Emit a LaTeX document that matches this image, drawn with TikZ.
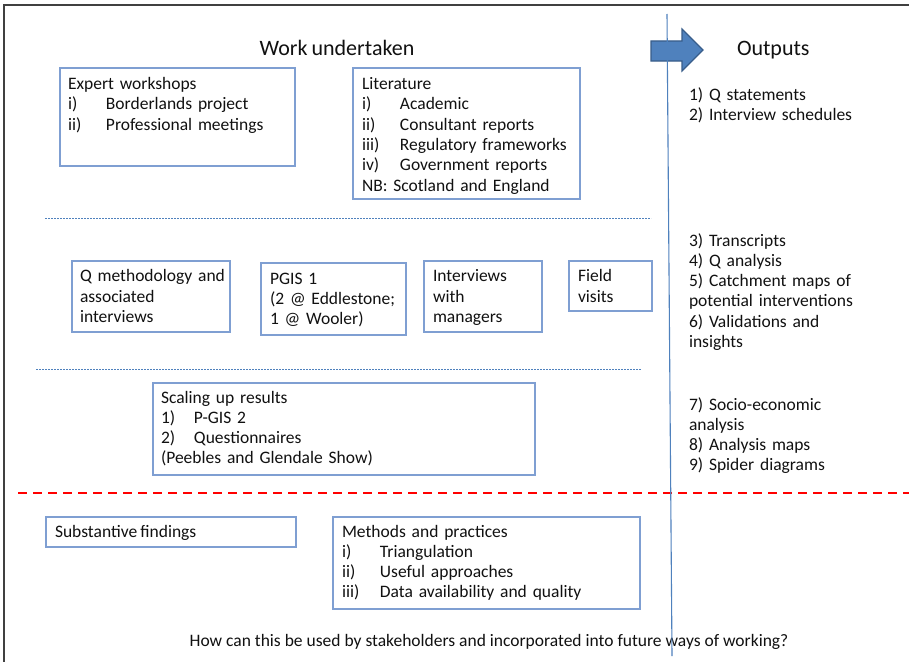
\documentclass[tikz,border=0pt]{standalone}
\usepackage{fontspec}
\setmainfont[WordSpace=0.8]{Carlito}
\newfontfamily\qfont{Carlito}
\definecolor{boxblue}{HTML}{7F9FD2}
\definecolor{lineblue}{HTML}{4F81BD}
\definecolor{arrowedge}{HTML}{385D8A}
\definecolor{framegray}{HTML}{404040}
\definecolor{txt}{HTML}{111111}
\newcommand\firstl{\rule{0pt}{15pt}}
\newcommand\itemlab[2][38pt]{\makebox[#1][l]{#2}}
\tikzset{
  boxnode/.style={draw=boxblue, line width=1.2pt, inner sep=0pt, outer sep=0pt, anchor=north west},
  txtblock/.style={anchor=north west, inner sep=0pt, outer sep=0pt, text width=330pt, align=left,
                   font=\fontsize{17.5}{20.3}\selectfont, text=txt},
  oneline/.style={anchor=base west, inner sep=0pt, outer sep=0pt, font=\fontsize{17.5}{20.3}\selectfont, text=txt},
  title/.style={anchor=base, inner sep=0pt, outer sep=0pt, font=\fontsize{22}{26}\selectfont, text=txt},
  sepline/.style={lineblue, line width=0.8pt, dash pattern=on 2pt off 1pt},
  reddash/.style={red, line width=2.2pt, dash pattern=on 9pt off 6pt},
  frameline/.style={framegray, line width=1.5pt},
  arrowshape/.style={fill=lineblue, draw=arrowedge, line width=1.2pt, line join=miter}
}
\begin{document}
\begin{tikzpicture}[x=1pt,y=-1pt]
\useasboundingbox (0,0) rectangle (909,661);
\fill[white] (0,0) rectangle (909,661);
% frame
\coordinate (fbl) at (4,670);
\coordinate (ftl) at (4,5);
\coordinate (ftr) at (915,5);
\draw[frameline] (fbl) -- (ftl) -- (ftr);

% titles
\node[title] (work) at (337,56) {Work undertaken};
\node[title, anchor=base west] (outputs) at (737,56) {Outputs};

% arrow
\draw[arrowshape] (651,41) -- (682,41) -- (682,29) -- (703,50) -- (682,71) -- (682,61) -- (651,61) -- cycle;

% --- row 1
\node[boxnode, minimum width=235pt, minimum height=98pt] (ewbox) at (60,68) {};
\node[txtblock] (ewtxt) at (68,74.5) {\firstl Expert workshops\\
  \itemlab{i)}Borderlands project\\
  \itemlab{ii)}Professional meetings};

\node[boxnode, minimum width=227pt, minimum height=131pt] (litbox) at (353,68) {};
\node[txtblock] (littxt) at (362,74.5) {\firstl Literature\\
  \itemlab{i)}Academic\\
  \itemlab{ii)}Consultant reports\\
  \itemlab{iii)}Regulatory frameworks\\
  \itemlab{iv)}Government reports\\
  NB: Scotland and England};

\coordinate (s1a) at (45,218);
\coordinate (s1b) at (651,218);
\draw[sepline] (s1a) -- (s1b);

% --- row 2
\node[boxnode, minimum width=158pt, minimum height=71pt] (qbox) at (72,261) {};
\node[txtblock] (qtxt) at (80,266.7) {\firstl Q methodology and\\associated\\interviews};

\node[boxnode, minimum width=145pt, minimum height=72pt] (pgbox) at (261,263) {};
\node[txtblock] (pgtxt) at (270,269) {\firstl PGIS 1\\(2 @ Eddlestone;\\1 @ Wooler)};

\node[boxnode, minimum width=118pt, minimum height=71pt] (imbox) at (424,261) {};
\node[txtblock] (imtxt) at (433,266.7) {\firstl Interviews\\with\\managers};

\node[boxnode, minimum width=83pt, minimum height=50pt] (fvbox) at (569,261) {};
\node[txtblock] (fvtxt) at (578,266.7) {\firstl Field\\visits};

\coordinate (s2a) at (36,369);
\coordinate (s2b) at (641,369);
\draw[sepline] (s2a) -- (s2b);

% --- row 3
\node[boxnode, minimum width=382pt, minimum height=92pt] (scbox) at (153,383) {};
\node[txtblock] (sctxt) at (161,388) {\firstl Scaling up results\\
  \itemlab[33pt]{1)}P-GIS 2\\
  \itemlab[33pt]{2)}Questionnaires\\
  (Peebles and Glendale Show)};

% red dashed divider
\coordinate (rda) at (18,493);
\coordinate (rdb) at (915,493);
\draw[reddash] (rda) -- (rdb);

% --- row 4
\node[boxnode, minimum width=250pt, minimum height=30pt] (sfbox) at (46,517) {};
\node[oneline] (sftxt) at (55,537) {Substantive findings};

\node[boxnode, minimum width=307pt, minimum height=92pt] (mpbox) at (333,517) {};
\node[txtblock] (mptxt) at (342,522) {\firstl Methods and practices\\
  \itemlab{i)}Triangulation\\
  \itemlab{ii)}Useful approaches\\
  \itemlab{iii)}Data availability and quality};

\node[oneline, anchor=base, font=\qfont\fontsize{17.5}{20.3}\selectfont] (question) at (489,646) {How can this be used by stakeholders and incorporated into future ways of working?};

% outputs
\node[txtblock] (out1) at (689,85) {\firstl 1) Q statements\\2) Interview schedules};
\node[txtblock] (out2) at (689,231) {\firstl 3) Transcripts\\4) Q analysis\\5) Catchment maps of\\potential interventions\\6) Validations and\\insights};
\node[txtblock] (out3) at (689,395) {\firstl 7) Socio-economic\\analysis\\8) Analysis maps\\9) Spider diagrams};

% vertical divider
\coordinate (vtop) at (667,14);
\coordinate (vbot) at (672,656);
\draw[lineblue, line width=1.1pt] (vtop) -- (vbot);
\end{tikzpicture}
\end{document}
